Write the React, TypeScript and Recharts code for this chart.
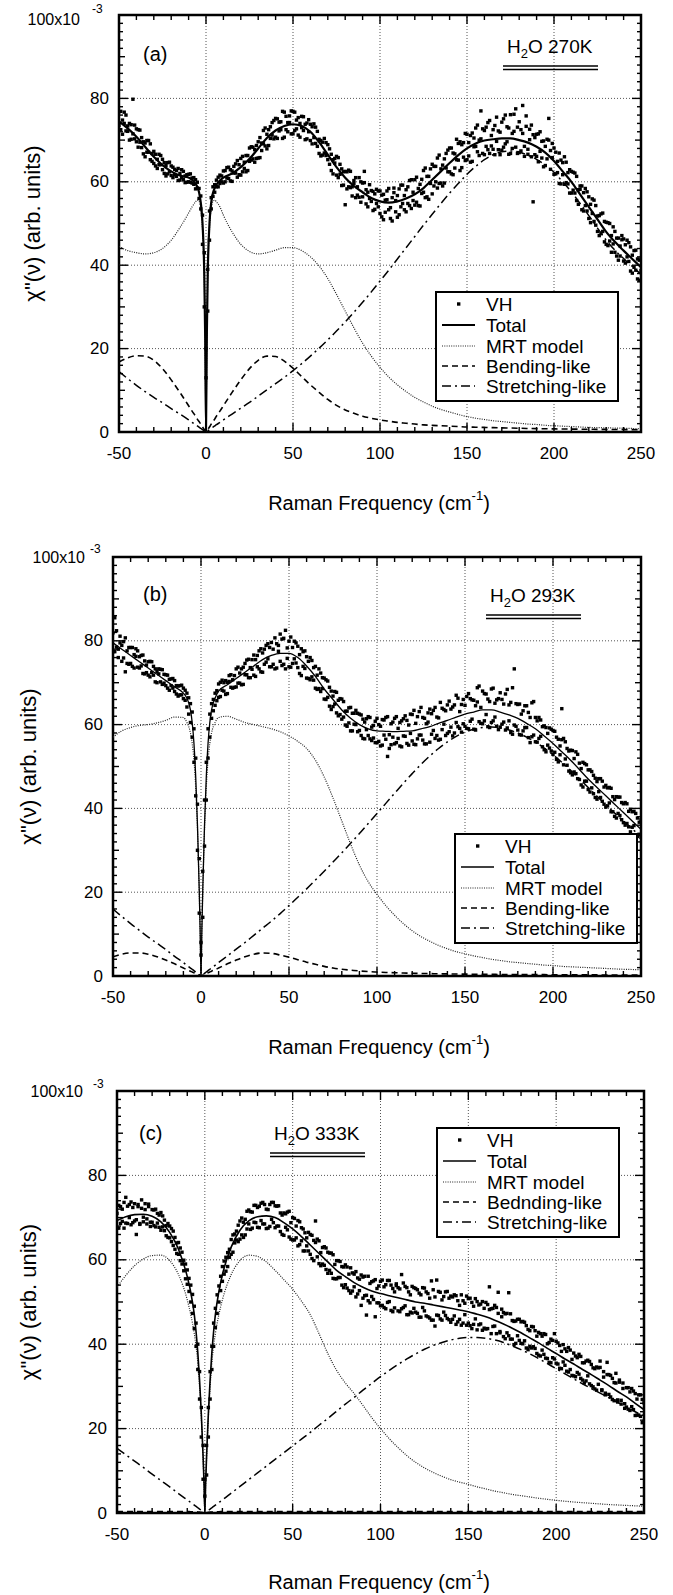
import React from "react";
import {
  ComposedChart,
  Line,
  Scatter,
  XAxis,
  YAxis,
  ReferenceLine,
  ReferenceArea,
} from "recharts";

const FONT = '"Liberation Sans", Arial, Helvetica, sans-serif';

// axis ticks (minor + major)
const xTicks = [-50, -40, -30, -20, -10, 0, 10, 20, 30, 40, 50, 60, 70, 80, 90, 100, 110, 120, 130, 140, 150, 160, 170, 180, 190, 200, 210, 220, 230, 240, 250];
const xMajor = [-50, 0, 50, 100, 150, 200, 250];
const yTicks = [0, 2, 4, 6, 8, 10, 12, 14, 16, 18, 20, 22, 24, 26, 28, 30, 32, 34, 36, 38, 40, 42, 44, 46, 48, 50, 52, 54, 56, 58, 60, 62, 64, 66, 68, 70, 72, 74, 76, 78, 80, 82, 84, 86, 88, 90, 92, 94, 96, 98, 100];
const yMajor = [0, 20, 40, 60, 80];
const gridX = [0, 50, 100, 150, 200];
const gridY = [20, 40, 60, 80];

// frequencies where the fitted curves are read
const curveFreq = [
  -50, -45, -40, -35, -30, -25, -20, -15, -10,
  -8, -6, -5, -4, -3, -2, -1, -0.5,
  0,
  0.5, 1, 2, 3, 4, 5, 6, 8,
  10, 15, 20, 25, 30, 35, 40, 45, 50, 55,
  60, 65, 70, 75, 80, 85, 90, 95, 100, 105,
  110, 115, 120, 125, 130, 135, 140, 145, 150, 155,
  160, 165, 170, 175, 180, 185, 190, 195, 200, 205,
  210, 215, 220, 225, 230, 235, 240, 245, 250,
];

// ---- (a) H2O 270K ----
const totalA = [
  74.5, 72.8, 70.8, 68.4, 66, 64, 62.5, 61.5, 61,
  60.5, 59.5, 58.8, 57.5, 55, 50, 38, 24,
  0.5,
  24, 38, 50, 55, 57.3, 58.5, 59.3, 60.3,
  61, 62, 63.5, 65.5, 68, 70.5, 72.3, 73.4, 73.8, 73.4,
  72, 69.5, 66.5, 63.5, 61, 59, 57.5, 56.1, 55.3, 55,
  55.3, 56, 57, 58.5, 60.5, 62.5, 64.5, 66.4, 68, 69.2,
  69.9, 70.2, 70.4, 70.4, 70, 69.4, 68.4, 67, 65, 62.5,
  60, 57, 54, 51, 48, 45.6, 43.5, 41.5, 39.5,
];
const mrtA = [
  44.5, 43.5, 43, 42.7, 43, 44, 46, 49, 52.5,
  54, 55.2, 55.6, 55.3, 53.5, 48.5, 37, 23.5,
  0.3,
  23.5, 37, 48.5, 53.5, 55.3, 55.6, 55.2, 54,
  52, 48, 45, 43.3, 42.7, 43, 43.6, 44.2, 44.2, 43.5,
  42, 39.8, 36.8, 33, 29, 25, 21.3, 18.2, 15.5, 13.2,
  11.3, 9.7, 8.3, 7.2, 6.2, 5.4, 4.8, 4.2, 3.7, 3.3,
  3, 2.7, 2.5, 2.3, 2.1, 1.9, 1.8, 1.6, 1.5, 1.4,
  1.3, 1.2, 1.1, 1.05, 1, 0.95, 0.9, 0.85, 0.8,
];
const bendA = [
  16.8, 17.8, 18.3, 18.2, 17.2, 15.2, 12.5, 9.5, 6.3,
  5, 3.8, 3.1, 2.5, 1.9, 1.2, 0.6, 0.3,
  0,
  0.3, 0.6, 1.2, 1.9, 2.5, 3.1, 3.8, 5,
  6.3, 9.5, 12.5, 15.2, 17.2, 18.2, 18.1, 17, 15.3, 13.3,
  11.3, 9.5, 7.8, 6.4, 5.3, 4.5, 3.8, 3.3, 2.9, 2.6,
  2.3, 2.1, 1.9, 1.7, 1.6, 1.5, 1.4, 1.3, 1.2, 1.15,
  1.1, 1.05, 1, 0.95, 0.9, 0.85, 0.8, 0.78, 0.75, 0.72,
  0.7, 0.68, 0.66, 0.64, 0.62, 0.6, 0.58, 0.56, 0.55,
];
const stretchA = [
  14.5, 12.8, 11.2, 9.7, 8.3, 7, 5.6, 4.3, 2.9,
  2.3, 1.75, 1.45, 1.15, 0.85, 0.57, 0.28, 0.14,
  0,
  0.14, 0.28, 0.57, 0.85, 1.15, 1.45, 1.75, 2.3,
  2.9, 4.3, 5.7, 7.1, 8.6, 10.1, 11.6, 13.1, 14.7, 16.4,
  18.2, 20.1, 22.1, 24.2, 26.4, 28.7, 31.1, 33.6, 36.2, 38.8,
  41.5, 44.2, 46.9, 49.6, 52.2, 54.8, 57.3, 59.6, 61.8, 63.7,
  65.3, 66.5, 67.2, 67.4, 67.1, 66.4, 65.4, 64, 62.3, 60,
  57.6, 54.8, 51.9, 48.9, 46, 43.6, 41.6, 39.7, 37.8,
];

// ---- (b) H2O 293K ----
const totalB = [
  79.5, 78, 76.5, 75, 73.5, 72, 70.5, 69, 67.5,
  66.3, 63.5, 60.5, 55.5, 47.5, 36, 20.5, 11,
  0.5,
  11, 20.5, 36, 47.5, 55.5, 60.5, 63.5, 66.3,
  68, 69.5, 71, 72.5, 74, 75.5, 76.5, 77, 77, 76,
  74, 71.5, 68.5, 66, 63.5, 61.5, 60, 59, 58.5, 58.4,
  58.3, 58.4, 58.5, 59, 59.5, 60.3, 61, 61.8, 62.5, 63,
  63.5, 63.5, 63, 62.3, 61.5, 60.3, 59, 57.3, 55.5, 53.5,
  51.5, 49.3, 47, 45, 43, 41, 39, 37, 35,
];
const mrtB = [
  57, 58.5, 59.3, 59.8, 60, 60.4, 61, 61.8, 61.7,
  60.5, 58, 55.5, 51.5, 45, 35, 20, 10.8,
  0.3,
  10.8, 20, 35, 45, 51.5, 55.5, 58, 60.5,
  61.7, 62, 61.3, 60.5, 60, 59.5, 59, 58.3, 57.3, 56,
  54.3, 51.5, 47.5, 42.5, 37, 31.5, 26.5, 22.5, 19.5, 16.8,
  14.5, 12.5, 10.8, 9.4, 8.3, 7.3, 6.5, 5.8, 5.3, 4.8,
  4.4, 4, 3.7, 3.4, 3.2, 3, 2.8, 2.6, 2.5, 2.3,
  2.2, 2.1, 2, 1.9, 1.8, 1.7, 1.6, 1.55, 1.5,
];
const bendB = [
  4.6, 5.2, 5.5, 5.5, 5.2, 4.6, 3.8, 2.9, 1.9,
  1.5, 1.15, 0.95, 0.76, 0.57, 0.38, 0.19, 0.1,
  0,
  0.1, 0.19, 0.38, 0.57, 0.76, 0.95, 1.15, 1.5,
  1.9, 2.9, 3.8, 4.6, 5.2, 5.5, 5.4, 5, 4.5, 3.9,
  3.3, 2.8, 2.3, 1.9, 1.6, 1.4, 1.2, 1.05, 0.95, 0.85,
  0.78, 0.72, 0.66, 0.61, 0.57, 0.53, 0.5, 0.47, 0.45, 0.43,
  0.41, 0.39, 0.37, 0.36, 0.35, 0.34, 0.33, 0.32, 0.31, 0.3,
  0.29, 0.28, 0.27, 0.26, 0.25, 0.25, 0.24, 0.24, 0.23,
];
const stretchB = [
  16, 14.2, 12.5, 10.9, 9.3, 7.8, 6.3, 4.7, 3.2,
  2.55, 1.9, 1.6, 1.28, 0.96, 0.64, 0.32, 0.16,
  0,
  0.16, 0.32, 0.64, 0.96, 1.28, 1.6, 1.9, 2.55,
  3.2, 4.8, 6.4, 8, 9.7, 11.4, 13.1, 14.9, 16.8, 18.8,
  20.8, 22.9, 25, 27.2, 29.4, 31.7, 34, 36.4, 38.8, 41.2,
  43.6, 46, 48.3, 50.5, 52.5, 54.3, 55.9, 57.2, 58.2, 58.9,
  59.3, 59.4, 59.2, 58.7, 58, 57, 55.8, 54.4, 52.8, 51,
  49.1, 47.1, 45, 42.9, 40.9, 38.9, 37, 35.1, 33.3,
];

// ---- (c) H2O 333K ----
const totalC = [
  69.3, 70.2, 70.7, 70.8, 70.3, 69, 66.5, 62.5, 56,
  52.3, 47, 43, 38, 31.5, 23.5, 13.5, 7.5,
  0.5,
  7.5, 13.5, 23.5, 31.5, 38, 43, 47, 52.5,
  56.5, 63, 67, 69.2, 70.2, 70.4, 70, 68.8, 67.3, 65.5,
  63.5, 61.5, 59.5, 57.5, 56, 54.6, 53.5, 52.6, 52, 51.5,
  51, 50.5, 50, 49.7, 49.3, 48.9, 48.5, 48.1, 47.7, 47.1,
  46.5, 45.7, 44.8, 43.8, 42.7, 41.5, 40.3, 39, 37.8, 36.5,
  35.3, 34, 32.8, 31.5, 30.2, 28.8, 27.5, 26, 24.5,
];
const mrtC = [
  53.5, 56.3, 58.6, 60.2, 61, 61.1, 59.8, 56.5, 50.5,
  47, 42.5, 39.5, 35.5, 29.8, 22.5, 13, 7.2,
  0.3,
  7.2, 13, 22.5, 29.8, 35.5, 39.5, 42.5, 47,
  50.5, 56.5, 59.8, 61.1, 60.8, 59.5, 57.5, 55.3, 53, 50.2,
  47, 42.5, 37.8, 33.8, 30.8, 28.3, 25.5, 22.6, 20, 17.6,
  15.5, 13.6, 12, 10.7, 9.6, 8.7, 7.9, 7.3, 6.8, 6.2,
  5.7, 5.2, 4.8, 4.4, 4.1, 3.8, 3.5, 3.25, 3, 2.8,
  2.6, 2.45, 2.3, 2.15, 2, 1.9, 1.8, 1.7, 1.6,
];
const bendC = [
  0.35, 0.35, 0.35, 0.35, 0.35, 0.35, 0.35, 0.35, 0.35,
  0.3, 0.3, 0.3, 0.25, 0.2, 0.15, 0.1, 0.05,
  0,
  0.05, 0.1, 0.15, 0.2, 0.25, 0.3, 0.3, 0.3,
  0.35, 0.35, 0.35, 0.35, 0.35, 0.35, 0.35, 0.35, 0.35, 0.35,
  0.35, 0.35, 0.35, 0.35, 0.35, 0.35, 0.35, 0.35, 0.35, 0.35,
  0.35, 0.35, 0.35, 0.35, 0.35, 0.35, 0.35, 0.35, 0.35, 0.35,
  0.35, 0.35, 0.35, 0.35, 0.35, 0.35, 0.35, 0.35, 0.35, 0.35,
  0.35, 0.35, 0.35, 0.35, 0.35, 0.35, 0.35, 0.35, 0.35,
];
const stretchC = [
  15.3, 13.8, 12.3, 10.8, 9.2, 7.7, 6.2, 4.6, 3.1,
  2.5, 1.85, 1.55, 1.24, 0.93, 0.62, 0.31, 0.15,
  0,
  0.15, 0.31, 0.62, 0.93, 1.24, 1.55, 1.85, 2.5,
  3.1, 4.7, 6.3, 7.9, 9.5, 11.1, 12.7, 14.3, 15.9, 17.5,
  19.1, 20.8, 22.4, 24.1, 25.8, 27.4, 29.1, 30.7, 32.3, 33.8,
  35.2, 36.5, 37.7, 38.8, 39.7, 40.4, 41, 41.4, 41.6, 41.6,
  41.4, 41, 40.4, 39.6, 38.7, 37.7, 36.6, 35.4, 34.2, 33,
  31.8, 30.6, 29.5, 28.4, 27.3, 26.2, 25.1, 24, 23,
];

// VH measured points: two readings per 1 cm-1 from -50 to 250
const vhFreq = Array.from({ length: 301 }, (_, i) => i - 50);

const vhA1 = [
  76.8, 72.5, 74.8, 76.7, 72.2, 73.4, 70.0, 73.7, 71.5, 73.6,
  69.6, 72.5, 69.5, 70.6, 66.7, 69.3, 67.1, 69.9, 65.3, 66.8,
  67.3, 63.8, 65.4, 64.1, 66.3, 62.9, 64.6, 61.4, 64.6, 62.4,
  61.5, 63.5, 61.7, 62.7, 60.3, 62.0, 62.9, 60.5, 61.4, 59.9,
  61.8, 59.9, 60.9, 59.4, 60.5, 58.5, 58.4, 53.5, 52, 30,
  13, 39, 46, 56.2, 56.5, 59.3, 58.8, 61.1, 59.6, 61.4,
  59.7, 62.7, 60.9, 63.5, 60.2, 62.6, 62.1, 64.3, 61.1, 64.1,
  65.6, 62.4, 64.7, 62.4, 66.3, 64.9, 68.4, 65.5, 67.7, 65.6,
  69.6, 65.8, 69.3, 72.3, 68.6, 71.4, 68.7, 73.2, 71.2, 74.7,
  70.7, 75.1, 72.2, 74.4, 70.4, 76.7, 72.5, 74.2, 75.8, 71.5,
  76.9, 72.3, 74.8, 71.2, 74.0, 75.7, 72.3, 70.1, 74.1, 72.0,
  69.9, 73.2, 70.6, 73.1, 68.5, 70.2, 66.2, 69.5, 66.9, 69.4,
  65.3, 67.9, 62.7, 65.3, 65.6, 61.6, 65.8, 61.8, 63.1, 59.2,
  54.5, 62.4, 58.8, 62.5, 58.8, 60.3, 56.2, 58.8, 56.3, 60.0,
  56.4, 59.8, 54.7, 57.5, 56.0, 57.9, 53.1, 57.1, 54.8, 57.8,
  52.4, 56.8, 50.9, 55.6, 57.8, 53.3, 51.2, 56.2, 58.5, 52.8,
  56.7, 52.1, 59.2, 54.8, 53.3, 58.1, 54.8, 60.3, 53.6, 57.5,
  60.5, 55.1, 58.4, 54.2, 60.6, 57.5, 63.3, 56.4, 61.3, 59.6,
  57.1, 63.7, 60.0, 65.7, 59.6, 63.1, 59.0, 65.5, 63.3, 67.6,
  62.4, 68.1, 61.7, 66.7, 65.3, 69.2, 62.7, 68.9, 65.9, 71.6,
  65.3, 69.4, 64.7, 71.7, 68.4, 72.9, 67.2, 70.0, 77.0, 66.8,
  72.3, 68.5, 74.2, 66.8, 71.1, 67.8, 73.5, 69.7, 72.2, 66.5,
  74.3, 68.3, 76.0, 69.6, 72.9, 66.8, 71.6, 76.2, 68.3, 73.1,
  67.0, 72.5, 78.3, 68.5, 73.3, 66.6, 70.1, 73.6, 55.2, 70.6,
  66.1, 71.5, 67.3, 69.7, 63.6, 68.5, 65.5, 70.0, 63.0, 65.8,
  68.1, 61.9, 64.9, 59.6, 65.2, 61.7, 66.0, 59.8, 62.2, 57.3,
  62.5, 58.0, 62.1, 55.5, 58.1, 59.0, 53.3, 57.4, 54.3, 57.6,
  51.2, 54.6, 52.4, 55.6, 49.6, 51.8, 47.1, 52.3, 48.1, 50.5,
  45.0, 50.2, 45.8, 47.1, 49.2, 43.1, 46.5, 41.2, 44.6, 46.1,
  41.0, 44.9, 42.0, 45.4, 38.6, 42.4, 43.5, 38.8, 36.7, 41.2, 38.7,
];
const vhA2 = [
  73.5, 76.9, 71.4, 74.0, 76.0, 72.1, 74.0, 70.2, 79.8, 70.3,
  72.7, 68.3, 72.4, 68.2, 69.6, 66.0, 69.9, 67.1, 69.1, 64.9,
  64.4, 66.6, 63.2, 66.6, 64.1, 65.4, 62.0, 63.9, 61.9, 64.7,
  63.8, 61.0, 63.0, 61.3, 63.2, 60.4, 61.0, 62.5, 59.8, 61.7,
  60.0, 61.9, 59.7, 61.0, 58.3, 59.9, 56.0, 56.6, 45, 43,
  20, 29, 53, 53.5, 58.8, 57.5, 60.4, 58.8, 61.6, 60.0,
  62.6, 60.0, 63.4, 60.8, 62.9, 60.1, 63.7, 62.1, 65.1, 61.7,
  61.6, 66.1, 63.2, 66.3, 62.7, 68.1, 65.2, 68.3, 64.7, 68.7,
  65.7, 70.6, 67.5, 69.1, 72.9, 67.9, 72.5, 70.4, 74.2, 70.3,
  75.2, 70.4, 74.3, 72.5, 76.9, 70.7, 75.7, 72.0, 74.2, 77.0,
  71.5, 76.7, 72.7, 75.4, 70.7, 73.0, 75.6, 73.8, 70.3, 74.9,
  73.8, 69.1, 73.9, 69.2, 72.1, 66.8, 69.9, 66.4, 70.4, 66.3,
  68.9, 64.2, 66.6, 61.9, 64.5, 66.1, 61.0, 64.2, 59.1, 62.4,
  62.5, 58.3, 62.8, 58.6, 56.6, 59.6, 61.0, 56.8, 61.0, 55.1,
  59.7, 62.5, 58.1, 54.0, 59.3, 55.3, 57.7, 53.4, 58.2, 54.0,
  57.8, 51.6, 57.0, 52.7, 55.7, 58.4, 53.8, 50.6, 57.4, 55.5,
  51.5, 58.3, 54.0, 59.2, 56.7, 52.8, 58.8, 54.3, 60.5, 55.5,
  54.4, 61.1, 54.3, 59.4, 57.2, 62.7, 56.2, 61.3, 55.8, 63.1,
  64.2, 59.0, 63.7, 58.5, 66.4, 59.7, 64.0, 59.7, 66.8, 62.4,
  68.1, 61.9, 66.9, 63.3, 70.2, 65.2, 69.6, 63.4, 69.4, 65.1,
  71.4, 66.2, 71.1, 64.9, 70.5, 68.5, 73.6, 66.3, 70.3, 72.7,
  66.5, 73.1, 67.7, 74.7, 68.6, 72.5, 66.5, 75.5, 67.7, 71.9,
  67.6, 75.1, 69.1, 73.2, 66.6, 76.1, 68.0, 72.1, 77.5, 66.8,
  74.4, 67.4, 71.6, 66.1, 75.8, 67.8, 72.6, 66.0, 71.3, 66.5,
  71.4, 64.8, 72.0, 65.7, 69.8, 63.9, 70.2, 75.2, 67.5, 69.2,
  61.8, 67.1, 62.2, 66.9, 59.5, 64.6, 59.4, 64.7, 59.5, 62.9,
  57.3, 62.3, 57.3, 61.3, 54.6, 58.2, 59.0, 53.0, 58.4, 53.0,
  56.4, 50.2, 55.9, 50.5, 54.3, 48.1, 51.9, 47.6, 52.5, 45.6,
  50.3, 44.7, 50.0, 43.1, 45.1, 48.1, 42.2, 46.5, 42.2, 47.1,
  46.3, 40.5, 46.0, 40.9, 44.4, 38.1, 39.5, 43.6, 41.5, 36.4, 41.5,
];
const vhB1 = [
  81.9, 77.4, 82.4, 78.0, 79.5, 75.1, 79.8, 72.6, 77.6, 74.4,
  78.4, 73.9, 76.7, 78.1, 73.7, 76.2, 74.0, 76.6, 72.1, 74.2,
  71.8, 75.1, 72.4, 73.9, 70.2, 72.7, 73.3, 70.2, 73.1, 69.9,
  71.9, 68.7, 70.8, 69.3, 71.0, 67.9, 69.3, 66.8, 69.3, 67.1,
  68.7, 65.8, 67.5, 62.5, 65.0, 57.0, 59.0, 43.0, 41.0, 15.0,
  8, 25, 31, 51, 52, 62.5, 61.5, 66.0, 64.6, 68.1,
  66.5, 70.1, 68.2, 70.0, 67.2, 70.1, 71.7, 68.9, 70.7, 68.9,
  73.3, 69.9, 72.3, 69.5, 73.7, 71.9, 75.4, 71.2, 73.6, 75.5,
  71.8, 75.5, 73.8, 77.6, 72.6, 77.1, 74.4, 78.9, 75.7, 78.4,
  73.8, 78.0, 73.3, 79.3, 77.5, 75.1, 80.4, 74.4, 82.5, 75.8,
  79.9, 73.7, 78.4, 75.7, 79.5, 73.6, 76.7, 71.7, 77.4, 73.4,
  76.2, 71.0, 76.0, 71.4, 73.6, 68.7, 71.8, 68.6, 72.3, 68.6,
  66.1, 70.7, 66.5, 68.9, 63.6, 66.8, 67.9, 62.8, 65.8, 62.4,
  66.1, 61.8, 63.2, 59.6, 64.0, 58.5, 62.7, 60.1, 63.4, 58.3,
  58.6, 62.3, 56.7, 60.6, 58.8, 61.9, 56.6, 59.4, 56.8, 60.8,
  55.7, 60.0, 54.9, 61.2, 57.5, 61.7, 52.4, 54.3, 60.2, 57.0,
  61.5, 55.7, 59.1, 54.9, 60.9, 57.3, 62.1, 55.5, 59.9, 57.9,
  62.4, 55.3, 60.3, 56.6, 63.1, 57.5, 61.7, 55.4, 60.2, 62.8,
  55.8, 62.6, 58.6, 64.1, 57.4, 61.6, 56.5, 63.9, 60.1, 63.3,
  57.9, 65.6, 59.4, 64.2, 58.0, 67.0, 59.5, 63.1, 58.2, 66.0,
  64.6, 59.1, 67.4, 60.8, 65.9, 58.9, 64.5, 68.8, 60.7, 64.1,
  60.2, 67.4, 62.4, 66.1, 59.3, 68.5, 60.9, 65.1, 59.6, 66.2,
  67.6, 60.1, 64.9, 58.7, 68.4, 60.9, 65.3, 57.7, 73.3, 59.6,
  64.8, 57.6, 62.5, 58.5, 64.5, 59.3, 62.9, 55.7, 65.2, 57.5,
  61.7, 55.8, 61.7, 57.2, 59.5, 54.0, 59.3, 55.1, 59.2, 53.7,
  58.6, 53.4, 57.0, 51.1, 54.9, 63.8, 56.7, 51.8, 54.3, 48.9,
  53.9, 48.0, 51.9, 48.3, 52.9, 46.9, 49.5, 45.1, 50.7, 46.5,
  44.5, 49.2, 44.9, 47.9, 42.6, 46.4, 44.0, 47.1, 41.7, 45.1,
  40.3, 44.9, 41.3, 44.8, 39.2, 42.1, 37.7, 42.7, 38.3, 41.4,
  36.6, 41.4, 36.4, 39.3, 34.4, 39.2, 35.9, 38.8, 33.3, 36.7, 33.1,
];
const vhB2 = [
  77.4, 85.5, 78.5, 76.0, 81.1, 78.9, 75.9, 80.7, 74.6, 78.4,
  74.6, 78.4, 73.5, 76.3, 77.6, 73.5, 76.5, 72.2, 75.2, 72.4,
  75.0, 71.4, 75.0, 71.8, 73.3, 70.0, 72.1, 73.2, 69.6, 72.0,
  69.3, 71.8, 68.2, 70.9, 68.7, 70.5, 67.3, 69.2, 67.1, 69.4,
  66.2, 68.2, 64.2, 66.4, 60.5, 63.0, 51.0, 52.0, 30.0, 28.0,
  5, 14, 42, 42, 59, 57, 65, 63.3, 67.5, 65.7,
  69.7, 66.7, 70.6, 68.0, 70.5, 67.4, 70.3, 71.9, 68.7, 71.7,
  69.0, 73.7, 69.9, 73.3, 69.6, 74.6, 71.9, 75.6, 71.2, 73.2,
  76.6, 71.5, 76.5, 73.3, 78.1, 72.5, 78.0, 74.9, 79.3, 73.8,
  79.6, 74.4, 80.7, 73.5, 78.9, 81.6, 74.1, 80.6, 73.3, 78.3,
  73.8, 80.9, 74.6, 79.9, 74.7, 78.7, 72.2, 78.1, 73.9, 77.6,
  71.1, 75.1, 70.7, 75.3, 70.6, 73.9, 68.4, 73.3, 67.9, 71.2,
  71.1, 66.0, 70.4, 64.4, 68.0, 64.3, 64.9, 67.7, 62.1, 66.2,
  61.3, 65.5, 59.9, 63.2, 60.4, 64.1, 58.5, 62.7, 60.0, 62.7,
  62.5, 57.4, 61.3, 56.6, 61.4, 57.4, 61.7, 56.2, 59.8, 55.7,
  61.5, 56.0, 59.6, 55.1, 61.1, 56.5, 61.9, 57.6, 55.2, 60.6,
  55.4, 61.9, 56.7, 60.5, 54.7, 61.4, 57.2, 61.0, 55.1, 62.5,
  56.1, 63.4, 55.2, 61.9, 57.5, 64.1, 56.3, 61.5, 55.4, 60.6,
  63.7, 57.7, 63.4, 56.7, 61.8, 56.3, 65.3, 58.8, 63.6, 57.4,
  64.7, 58.3, 63.7, 57.3, 64.7, 60.5, 66.3, 59.1, 64.8, 60.2,
  59.6, 66.7, 59.0, 66.2, 61.3, 65.8, 58.7, 65.4, 69.2, 60.3,
  68.0, 60.9, 67.3, 59.5, 65.5, 60.5, 68.7, 61.8, 65.9, 58.8,
  59.4, 66.0, 60.6, 67.3, 59.2, 64.7, 58.1, 68.8, 59.9, 65.0,
  58.7, 64.9, 57.5, 63.3, 59.3, 64.5, 56.9, 61.7, 57.1, 65.5,
  55.9, 60.9, 56.7, 61.1, 54.7, 59.7, 53.5, 57.9, 54.4, 58.9,
  52.9, 58.4, 51.7, 56.5, 52.8, 56.4, 50.4, 55.9, 50.3, 53.7,
  48.5, 53.8, 48.7, 53.5, 47.1, 50.8, 45.6, 51.0, 46.5, 50.4,
  49.2, 43.9, 48.8, 43.5, 47.2, 42.2, 47.1, 42.6, 46.5, 41.0,
  45.5, 40.6, 45.0, 39.2, 42.8, 38.1, 42.8, 38.8, 42.7, 37.3,
  41.1, 36.0, 41.1, 35.6, 39.8, 35.5, 39.3, 33.4, 37.7, 33.8, 37.3,
];
const vhC1 = [
  71.0, 67.5, 72.6, 69.1, 73.6, 68.7, 72.7, 70.0, 73.7, 68.8,
  73.3, 69.5, 72.6, 68.4, 74.2, 70.1, 71.9, 68.5, 73.2, 68.9,
  71.9, 68.1, 72.0, 68.7, 70.6, 67.0, 70.4, 66.9, 68.1, 65.3,
  68.0, 64.3, 66.8, 62.5, 64.0, 61.3, 62.8, 59.0, 59.9, 55.5,
  57.6, 52.5, 54.0, 47.3, 49.0, 39.5, 40.0, 27.0, 25.0, 8.0,
  8, 9, 25, 27, 39.5, 39.5, 48.5, 47.3, 53.8, 52.7,
  58.4, 56.6, 60.6, 58.4, 62.5, 61.3, 65.9, 64.0, 66.8, 64.3,
  69.2, 65.9, 68.9, 65.9, 71.5, 68.5, 71.4, 67.5, 72.9, 68.8,
  67.7, 72.7, 69.3, 73.6, 68.5, 72.0, 67.5, 73.1, 69.6, 73.6,
  67.6, 72.7, 68.0, 71.1, 66.0, 71.1, 67.7, 71.3, 65.4, 68.8,
  70.0, 64.7, 68.0, 63.3, 69.0, 64.5, 67.3, 62.1, 65.2, 62.1,
  66.0, 60.3, 64.6, 69.2, 64.9, 59.1, 61.7, 59.0, 63.1, 57.7,
  61.8, 57.5, 61.6, 55.6, 58.9, 55.5, 59.8, 55.8, 58.4, 53.4,
  58.8, 53.3, 56.6, 52.1, 56.9, 53.6, 57.2, 51.9, 55.4, 49.2,
  55.9, 51.5, 46.9, 50.3, 54.4, 51.3, 55.0, 46.5, 53.2, 49.8,
  54.9, 49.2, 53.6, 48.4, 55.1, 50.1, 54.0, 47.7, 52.4, 54.3,
  47.9, 53.1, 48.4, 54.5, 49.1, 53.4, 47.0, 51.7, 47.4, 53.4,
  47.6, 52.9, 46.4, 51.7, 48.7, 53.3, 46.7, 52.0, 46.2, 55.0,
  45.7, 51.2, 46.9, 52.5, 46.0, 50.5, 47.6, 52.4, 46.1, 50.9,
  45.2, 51.2, 46.7, 51.5, 45.3, 49.2, 44.5, 50.3, 47.0, 51.4,
  45.0, 50.9, 43.7, 49.0, 46.0, 50.1, 44.6, 49.5, 43.3, 48.5,
  49.9, 43.7, 48.2, 42.5, 48.5, 44.3, 48.7, 52.3, 43.0, 46.5,
  41.8, 47.2, 42.7, 52.2, 41.2, 45.6, 39.9, 45.5, 42.0, 45.9,
  40.2, 45.4, 40.8, 44.4, 38.7, 43.2, 39.1, 44.1, 39.0, 41.9,
  37.4, 42.5, 38.6, 42.5, 36.7, 40.1, 35.7, 41.2, 36.8, 42.5,
  35.5, 40.3, 34.3, 38.3, 35.8, 38.9, 33.6, 39.2, 34.0, 36.4,
  32.5, 37.2, 33.3, 37.6, 31.9, 35.6, 30.8, 36.0, 32.5, 35.9,
  30.2, 34.4, 29.4, 34.6, 30.5, 34.5, 29.0, 32.2, 28.0, 32.8,
  28.1, 32.6, 26.9, 30.9, 33.1, 26.3, 31.0, 26.7, 30.8, 24.8,
  29.7, 24.6, 28.7, 25.2, 28.9, 23.1, 27.0, 23.2, 28.0, 21.4, 26.1,
];
const vhC2 = [
  67.5, 72.9, 68.6, 72.0, 67.5, 74.8, 68.6, 73.1, 68.3, 72.4,
  69.2, 66.0, 73.1, 68.6, 72.2, 69.0, 73.3, 69.7, 72.6, 67.9,
  68.9, 71.8, 67.8, 71.0, 67.7, 71.2, 67.8, 69.4, 65.7, 68.6,
  65.2, 67.4, 63.4, 65.3, 61.5, 64.1, 59.8, 61.8, 57.4, 59.0,
  54.2, 55.6, 50.0, 51.8, 43.7, 45.0, 34.0, 33.5, 18.0, 16.0,
  4, 16, 18, 33.5, 34, 45, 44, 51.7, 50, 56.1,
  54.9, 59.7, 57.3, 61.7, 60.6, 64.8, 61.8, 66.1, 64.7, 68.2,
  64.9, 69.9, 65.3, 69.6, 67.3, 71.8, 67.2, 71.3, 68.9, 72.9,
  72.4, 67.6, 73.4, 68.5, 73.1, 67.4, 71.9, 67.9, 73.6, 68.8,
  72.8, 68.0, 72.8, 66.7, 70.6, 65.8, 70.9, 67.1, 71.5, 64.9,
  64.7, 69.8, 65.2, 69.3, 63.6, 67.6, 62.1, 66.4, 63.3, 66.5,
  61.3, 65.8, 59.8, 64.1, 60.7, 64.5, 58.6, 62.9, 58.7, 62.8,
  56.8, 61.6, 56.8, 61.2, 55.5, 59.8, 55.8, 59.6, 54.0, 58.3,
  54.1, 58.3, 52.7, 58.1, 52.6, 56.6, 51.2, 55.7, 52.7, 56.4,
  50.9, 56.1, 51.6, 56.1, 49.8, 54.8, 50.6, 55.3, 49.8, 53.8,
  49.1, 55.2, 48.7, 54.1, 49.9, 55.1, 48.0, 53.2, 48.6, 53.9,
  53.4, 47.7, 56.5, 48.7, 53.7, 47.0, 52.4, 47.6, 53.7, 48.5,
  53.2, 47.3, 52.1, 46.4, 53.4, 47.9, 52.4, 46.5, 50.9, 45.7,
  52.9, 44.3, 55.2, 46.8, 52.3, 45.7, 51.3, 46.8, 52.5, 45.8,
  51.4, 45.9, 51.7, 44.7, 50.3, 45.9, 51.7, 45.0, 49.7, 44.5,
  50.8, 44.4, 49.9, 44.7, 50.8, 43.4, 49.3, 44.8, 50.1, 43.8,
  43.6, 49.4, 53.6, 48.4, 44.2, 49.2, 42.5, 47.3, 42.7, 48.3,
  47.5, 41.3, 47.3, 42.0, 47.2, 41.2, 45.4, 40.2, 45.9, 40.9,
  45.3, 40.1, 45.2, 39.1, 43.5, 39.5, 44.2, 39.4, 43.2, 37.8,
  42.8, 37.2, 41.9, 37.6, 42.3, 36.6, 40.4, 35.6, 40.9, 36.5,
  40.7, 35.3, 39.7, 34.2, 39.9, 35.0, 38.3, 33.4, 38.6, 32.6,
  37.9, 32.3, 36.8, 32.9, 37.1, 31.5, 35.6, 31.3, 36.2, 30.6,
  35.2, 29.9, 34.2, 29.1, 34.4, 36.0, 29.2, 33.5, 28.4, 35.7,
  32.8, 27.5, 31.9, 26.6, 30.8, 26.8, 31.5, 25.8, 29.5, 25.9,
  25.1, 29.7, 24.3, 29.5, 24.5, 28.3, 23.2, 28.0, 22.9, 26.9, 21.7,
];

const lineData = (values: number[]) => curveFreq.map((f, i) => ({ f, v: values[i] }));
const pointData = (a: number[], b: number[]) =>
  vhFreq.flatMap((f, i) => [{ f, v: a[i] }, { f, v: b[i] }]);

const PAGE_W = 673;
const PAGE_H = 1595;
const CHART_H = 530;
const Y_AXIS_W = 60;
const X_AXIS_H = 30;

type Panel = {
  id: string;
  top: number;
  left: number;
  plotTop: number;
  width: number;
  height: number;
  total: number[];
  mrt: number[];
  bend: number[];
  stretch: number[];
  vh1: number[];
  vh2: number[];
  totalWidth: number;
  temp: string;
  expoEnd: number;
  expoDy: number;
  supX: number;
  supDy: number;
  tag: { x: number; y: number };
  h2o: { x: number; y: number };
  legend: { x: number; y: number };
  bendName: string;
  titleY: number;
  yTitleX: number;
};

const panels: Panel[] = [
  {
    id: "a", top: 0, left: 119, plotTop: 15, width: 522, height: 417,
    total: totalA, mrt: mrtA, bend: bendA, stretch: stretchA, vh1: vhA1, vh2: vhA2,
    totalWidth: 2.2, temp: "270K", expoEnd: -39, expoDy: 4, supX: -27, supDy: -6,
    tag: { x: 143, y: 61 }, h2o: { x: 507, y: 53 }, legend: { x: 436, y: 292 },
    bendName: "Bending-like", titleY: 503, yTitleX: 32,
  },
  {
    id: "b", top: 530, left: 113, plotTop: 557, width: 528, height: 419,
    total: totalB, mrt: mrtB, bend: bendB, stretch: stretchB, vh1: vhB1, vh2: vhB2,
    totalWidth: 1.3, temp: "293K", expoEnd: -28, expoDy: 0, supX: -23, supDy: -8,
    tag: { x: 143, y: 601 }, h2o: { x: 490, y: 602 }, legend: { x: 455, y: 834 },
    bendName: "Bending-like", titleY: 1047, yTitleX: 28,
  },
  {
    id: "c", top: 1065, left: 117, plotTop: 1091, width: 527, height: 422,
    total: totalC, mrt: mrtC, bend: bendC, stretch: stretchC, vh1: vhC1, vh2: vhC2,
    totalWidth: 1.6, temp: "333K", expoEnd: -34, expoDy: 0, supX: -24, supDy: -7,
    tag: { x: 139, y: 1140 }, h2o: { x: 274, y: 1140 }, legend: { x: 437, y: 1128 },
    bendName: "Bednding-like", titleY: 1582, yTitleX: 28,
  },
];

const DOT = "1 1.3";
const DASH = "6 4";
const DASHDOT = "9 4 2 4";

function PanelChart({ p }: { p: Panel }) {
  const mTop = p.plotTop - p.top;
  const mLeft = p.left - Y_AXIS_W;
  const mRight = PAGE_W - p.left - p.width;
  const mBottom = CHART_H - mTop - p.height - X_AXIS_H;
  const pl = p.left;
  const pr = p.left + p.width;
  const pt = mTop;
  const pb = mTop + p.height;

  const xTick = (props: any) => {
    const { x, payload } = props;
    const v = payload.value;
    const major = xMajor.includes(v);
    const len = major ? 9 : 5;
    return (
      <g>
        <line x1={x} y1={pb} x2={x} y2={pb - len} stroke="#000" strokeWidth={1.4} />
        <line x1={x} y1={pt} x2={x} y2={pt + len} stroke="#000" strokeWidth={1.4} />
        {major && (
          <text x={x} y={pb + 21} textAnchor="middle" dominantBaseline="central"
            fontSize={17} fontFamily={FONT} fill="#000">{v}</text>
        )}
      </g>
    );
  };

  const yTick = (props: any) => {
    const { y, payload } = props;
    const v = payload.value;
    const len = v % 20 === 0 ? 9 : v % 10 === 0 ? 6 : 4;
    return (
      <g>
        <line x1={pl} y1={y} x2={pl + len} y2={y} stroke="#000" strokeWidth={1.4} />
        <line x1={pr} y1={y} x2={pr - len} y2={y} stroke="#000" strokeWidth={1.4} />
        {yMajor.includes(v) && (
          <text x={pl - 10} y={y} textAnchor="end" dominantBaseline="central"
            fontSize={17} fontFamily={FONT} fill="#000">{v}</text>
        )}
        {v === 100 && (
          <g>
            <text x={pl + p.expoEnd} y={y + p.expoDy} textAnchor="end" dominantBaseline="central"
              fontSize={16} fontFamily={FONT} fill="#000">100x10</text>
            <text x={pl + p.supX} y={y + p.supDy} textAnchor="start" dominantBaseline="central"
              fontSize={12} fontFamily={FONT} fill="#000">-3</text>
          </g>
        )}
      </g>
    );
  };

  const square = (props: any) => (
    <rect x={props.cx - 1.7} y={props.cy - 1.7} width={3.4} height={3.4} fill="#000" />
  );

  return (
    <ComposedChart width={PAGE_W} height={CHART_H}
      margin={{ top: mTop, right: mRight, bottom: mBottom, left: mLeft }}>
      <XAxis type="number" dataKey="f" domain={[-50, 250]} ticks={xTicks} interval={0}
        tick={xTick} tickLine={false} axisLine={false} height={X_AXIS_H} allowDataOverflow />
      <YAxis type="number" dataKey="v" domain={[0, 100]} ticks={yTicks} interval={0}
        tick={yTick} tickLine={false} axisLine={false} width={Y_AXIS_W} allowDataOverflow />
      {gridX.map((g) => (
        <ReferenceLine key={`gx${g}`} x={g} stroke="#555" strokeDasharray="1 2" strokeWidth={1} />
      ))}
      {gridY.map((g) => (
        <ReferenceLine key={`gy${g}`} y={g} stroke="#555" strokeDasharray="1 2" strokeWidth={1} />
      ))}
      <Scatter name="VH" data={pointData(p.vh1, p.vh2)} dataKey="v" shape={square}
        isAnimationActive={false} />
      <Line name="MRT model" data={lineData(p.mrt)} dataKey="v" type="monotone" stroke="#222"
        strokeWidth={1.2} strokeDasharray={DOT} dot={false} isAnimationActive={false} />
      <Line name={p.bendName} data={lineData(p.bend)} dataKey="v" type="monotone" stroke="#000"
        strokeWidth={1.6} strokeDasharray={DASH} dot={false} isAnimationActive={false} />
      <Line name="Stretching-like" data={lineData(p.stretch)} dataKey="v" type="monotone" stroke="#000"
        strokeWidth={1.5} strokeDasharray={DASHDOT} dot={false} isAnimationActive={false} />
      <Line name="Total" data={lineData(p.total)} dataKey="v" type="monotone" stroke="#000"
        strokeWidth={p.totalWidth} dot={false} isAnimationActive={false} />
      <ReferenceArea x1={-50} x2={250} y1={0} y2={100} fill="none" fillOpacity={0}
        stroke="#000" strokeWidth={2.5} ifOverflow="visible" />
    </ComposedChart>
  );
}

function LegendBox({ p }: { p: Panel }) {
  const { x, y } = p.legend;
  const rows = [12, 33, 54, 74, 94];
  const names = ["VH", "Total", "MRT model", p.bendName, "Stretching-like"];
  const sx1 = x + 6;
  const sx2 = x + 39;
  return (
    <g>
      <rect x={x} y={y} width={182} height={109} fill="#fff" stroke="#000" strokeWidth={2} />
      <rect x={x + 21} y={y + rows[0] - 1.7} width={3.4} height={3.4} fill="#000" />
      <line x1={sx1} x2={sx2} y1={y + rows[1]} y2={y + rows[1]} stroke="#000" strokeWidth={p.totalWidth} />
      <line x1={sx1} x2={sx2} y1={y + rows[2]} y2={y + rows[2]} stroke="#222" strokeWidth={1.2} strokeDasharray={DOT} />
      <line x1={sx1} x2={sx2} y1={y + rows[3]} y2={y + rows[3]} stroke="#000" strokeWidth={1.6} strokeDasharray={DASH} />
      <line x1={sx1} x2={sx2} y1={y + rows[4]} y2={y + rows[4]} stroke="#000" strokeWidth={1.5} strokeDasharray={DASHDOT} />
      {names.map((n, i) => (
        <text key={n} x={x + 50} y={y + rows[i]} dominantBaseline="central" fontSize={19}
          fontFamily={FONT} fill="#000">{n}</text>
      ))}
    </g>
  );
}

function Overlay() {
  return (
    <svg width={PAGE_W} height={PAGE_H}
      style={{ position: "absolute", left: 0, top: 0, pointerEvents: "none" }}>
      {panels.map((p) => {
        const cy = p.plotTop + p.height / 2;
        return (
          <g key={p.id}>
            <text x={p.yTitleX} y={cy} transform={`rotate(-90 ${p.yTitleX} ${cy})`}
              textAnchor="middle" dominantBaseline="central" fontSize={22} fontFamily={FONT}
              fill="#000">{'χ"(ν) (arb. units)'}</text>
            <text x={379} y={p.titleY} textAnchor="middle" dominantBaseline="central"
              fontSize={20} fontFamily={FONT} fill="#000">
              Raman Frequency (cm<tspan fontSize={13} dy={-8}>-1</tspan><tspan dy={8}>)</tspan>
            </text>
            <text x={p.tag.x} y={p.tag.y} fontSize={20} fontFamily={FONT} fill="#000">({p.id})</text>
            <text x={p.h2o.x} y={p.h2o.y} fontSize={19} fontFamily={FONT} fill="#000">
              H<tspan fontSize={13} dy={5}>2</tspan><tspan dy={-5}>O {p.temp}</tspan>
            </text>
            <line x1={p.h2o.x - 4} x2={p.h2o.x + 91} y1={p.h2o.y + 13} y2={p.h2o.y + 13}
              stroke="#000" strokeWidth={1.5} />
            <line x1={p.h2o.x - 4} x2={p.h2o.x + 91} y1={p.h2o.y + 16.5} y2={p.h2o.y + 16.5}
              stroke="#000" strokeWidth={1.5} />
            <LegendBox p={p} />
          </g>
        );
      })}
    </svg>
  );
}

export default function App() {
  return (
    <div style={{ position: "absolute", left: 0, top: 0, width: PAGE_W, height: PAGE_H,
      background: "#fff", fontFamily: FONT }}>
      {panels.map((p) => (
        <div key={p.id} style={{ position: "absolute", left: 0, top: p.top }}>
          <PanelChart p={p} />
        </div>
      ))}
      <Overlay />
    </div>
  );
}
